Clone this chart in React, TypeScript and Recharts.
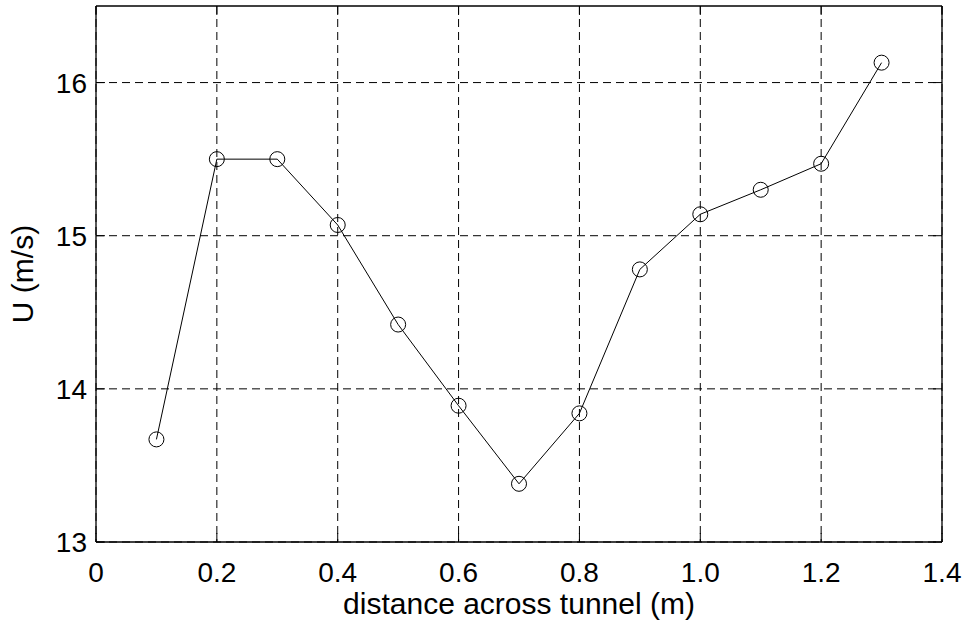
import React from 'react';
import { LineChart, Line, XAxis, YAxis, CartesianGrid } from 'recharts';

const distances = [0.1, 0.2, 0.3, 0.4, 0.5, 0.6, 0.7, 0.8, 0.9, 1.0, 1.1, 1.2, 1.3];
const velocities = [13.67, 15.5, 15.5, 15.07, 14.42, 13.89, 13.38, 13.84, 14.78, 15.14, 15.3, 15.47, 16.13];
const xTicks = [0, 0.2, 0.4, 0.6, 0.8, 1.0, 1.2, 1.4];
const yTicks = [13, 14, 15, 16];
const xDomain = [0, 1.4];
const yDomain = [13, 16.5];
const xLabel = 'distance across tunnel (m)';
const yLabel = 'U (m/s)';

const data = distances.map((d, i) => ({ x: d, u: velocities[i] }));

const FONT = '"Liberation Sans", Arial, Helvetica, sans-serif';
const FS = 28;
const LFS = 30;
const TICK_LEN = 9;
const X_MARGIN = 20;
const Y_MARGIN = 9;

const fmtX = (v: number) => (v === 0 ? '0' : v.toFixed(1));

const BottomTick = (props: any) => {
  const { x, y, payload } = props;
  const ay = y - X_MARGIN;
  return (
    <g>
      <line x1={x} y1={ay} x2={x} y2={ay - TICK_LEN} stroke="#000" strokeWidth={1} />
      <text x={x} y={y} dy="0.71em" textAnchor="middle" fontFamily={FONT} fontSize={FS} fill="#000">
        {fmtX(payload.value)}
      </text>
    </g>
  );
};

const LeftTick = (props: any) => {
  const { x, y, payload } = props;
  const ax = x + Y_MARGIN;
  return (
    <g>
      <line x1={ax} y1={y} x2={ax + TICK_LEN} y2={y} stroke="#000" strokeWidth={1} />
      <text x={x} y={y} dy="0.355em" textAnchor="end" fontFamily={FONT} fontSize={FS} fill="#000">
        {payload.value}
      </text>
    </g>
  );
};

const TopTick = (props: any) => {
  const { x, y } = props;
  return <line x1={x} y1={y} x2={x} y2={y + TICK_LEN} stroke="#000" strokeWidth={1} />;
};

const RightTick = (props: any) => {
  const { x, y } = props;
  return <line x1={x} y1={y} x2={x - TICK_LEN} y2={y} stroke="#000" strokeWidth={1} />;
};

export default function App() {
  return (
    <div style={{ position: 'absolute', left: 0, top: 0, width: 969, height: 622, background: '#fff' }}>
      <LineChart
        width={969}
        height={622}
        data={data}
        margin={{ top: 5, right: 26, bottom: 0, left: 0 }}
        style={{ background: '#fff' }}
      >
        <CartesianGrid
          xAxisId="b"
          yAxisId="l"
          stroke="#000"
          strokeWidth={1}
          strokeDasharray="8 5"
          horizontalValues={yTicks}
          verticalValues={xTicks}
        />
        <XAxis
          xAxisId="b"
          dataKey="x"
          type="number"
          domain={xDomain}
          ticks={xTicks}
          allowDataOverflow
          height={80}
          tickSize={0}
          tickMargin={X_MARGIN}
          tickLine={false}
          axisLine={{ stroke: '#000', strokeWidth: 1.3 }}
          tick={<BottomTick />}
          interval={0}
          label={{
            content: (p: any) => {
              const vb = p.viewBox;
              return (
                <text
                  x={vb.x + vb.width / 2}
                  y={vb.y + 72}
                  textAnchor="middle"
                  fontFamily={FONT}
                  fontSize={LFS}
                  fill="#000"
                >
                  {xLabel}
                </text>
              );
            },
          }}
        />
        <XAxis
          xAxisId="t"
          orientation="top"
          dataKey="x"
          type="number"
          domain={xDomain}
          ticks={xTicks}
          allowDataOverflow
          height={1}
          tickSize={0}
          tickMargin={0}
          tickLine={false}
          axisLine={{ stroke: '#000', strokeWidth: 1.3 }}
          tick={<TopTick />}
          interval={0}
        />
        <YAxis
          yAxisId="l"
          type="number"
          domain={yDomain}
          ticks={yTicks}
          allowDataOverflow
          width={96}
          tickSize={0}
          tickMargin={Y_MARGIN}
          tickLine={false}
          axisLine={{ stroke: '#000', strokeWidth: 1.3 }}
          tick={<LeftTick />}
          interval={0}
          label={{
            content: (p: any) => {
              const vb = p.viewBox;
              const cx = vb.x + 22;
              const cy = vb.y + vb.height / 2;
              return (
                <text
                  x={cx}
                  y={cy}
                  dy="0.355em"
                  textAnchor="middle"
                  transform={`rotate(-90, ${cx}, ${cy})`}
                  fontFamily={FONT}
                  fontSize={LFS}
                  fill="#000"
                >
                  {yLabel}
                </text>
              );
            },
          }}
        />
        <YAxis
          yAxisId="r"
          orientation="right"
          type="number"
          domain={yDomain}
          ticks={yTicks}
          allowDataOverflow
          width={1}
          tickSize={0}
          tickMargin={0}
          tickLine={false}
          axisLine={{ stroke: '#000', strokeWidth: 1.3 }}
          tick={<RightTick />}
          interval={0}
        />
        <Line
          xAxisId="b"
          yAxisId="l"
          type="linear"
          dataKey="u"
          stroke="#000"
          strokeWidth={1}
          dot={{ r: 7.5, fill: 'none', stroke: '#000', strokeWidth: 1 }}
          activeDot={false}
          isAnimationActive={false}
        />
      </LineChart>
    </div>
  );
}
